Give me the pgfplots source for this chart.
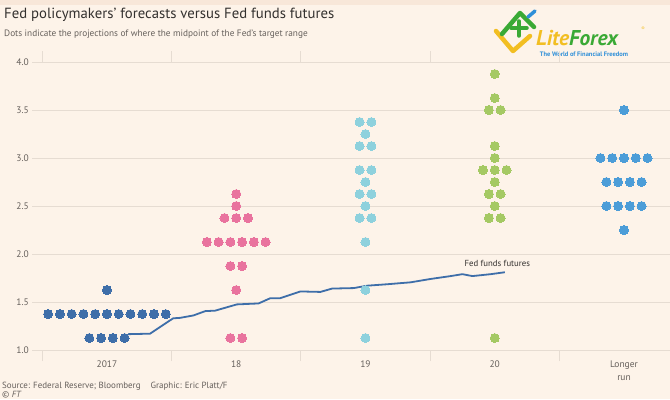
\documentclass[border=0pt]{standalone}
\usepackage{pgfplots}
\pgfplotsset{compat=1.18}
\usepackage{fontspec}
\setmainfont{PT Sans}
\definecolor{bg}{HTML}{FDF3E9}
\definecolor{topband}{HTML}{F8E7D9}
\definecolor{gridc}{HTML}{E6DCD2}
\definecolor{txt}{HTML}{33302E}
\definecolor{sub}{HTML}{66605C}
\definecolor{c17}{HTML}{3E6EA9}
\definecolor{c18}{HTML}{E9739E}
\definecolor{c19}{HTML}{8ED1DD}
\definecolor{c20}{HTML}{A5C964}
\definecolor{clr}{HTML}{4C9DD8}
\definecolor{lfgreen}{HTML}{3AA935}
\definecolor{lfyellow}{HTML}{F2BE22}
\definecolor{lfblue}{HTML}{2F8FD8}
\begin{document}
\begin{tikzpicture}[x=1bp,y=1bp]
\useasboundingbox (0,0) rectangle (670,399);
\fill[bg] (0,0) rectangle (670,399);
\fill[topband] (0,394) rectangle (670,399);
\node[anchor=west, font=\fontsize{14.8}{17}\selectfont, text=txt, inner sep=0] at (4,384) {Fed policymakers' forecasts versus Fed funds futures};
\node[anchor=west, font=\fontsize{9.3}{11}\selectfont, text=sub, inner sep=0] at (4,365) {Dots indicate the projections of where the midpoint of the Fed's target range};
\node[anchor=west, font=\fontsize{9}{10}\selectfont, text=sub, inner sep=0] at (2,13) {Source: Federal Reserve; Bloomberg\hspace{10bp}Graphic: Eric Platt/F};
\node[anchor=west, font=\fontsize{9}{10}\selectfont, text=sub, inner sep=0] at (2,4) {\textcopyright{} \textit{FT}};
% logo
\draw[lfyellow, line width=4.5bp, line cap=round, line join=round] (496,368) -- (513,348) -- (530,363);
\draw[lfgreen, line width=4.5bp, line cap=round, line join=round] (502,365) -- (520,386) -- (534,372);
\draw[lfgreen, line width=3.5bp, line cap=round] (511,371) -- (527,371);
\draw[lfgreen, line width=3.5bp, line cap=round] (519,363) -- (519,378);
\draw[lfblue, line width=3.5bp, line cap=round] (528,382) -- (535,388);
\node[anchor=base west, inner sep=0, font=\fontsize{21.5}{23}\selectfont\bfseries\itshape] at (536,354) {\textcolor{lfyellow}{Lite}\textcolor{lfgreen}{Forex}};
\node[anchor=center, inner sep=0, text=lfyellow, font=\fontsize{5}{6}\selectfont] at (643,370) {\textregistered};
\node[anchor=center, inner sep=0, text=lfblue, font=\fontsize{6.5}{7}\selectfont\bfseries] at (584,345) {The World of Financial Freedom};
\begin{axis}[
  at={(32bp,49bp)}, anchor=south west, scale only axis,
  width=638bp, height=288bp,
  xmin=-0.58, xmax=4.356, ymin=1, ymax=4,
  clip=false,
  axis line style={draw=none},
  ymajorgrids, grid style={gridc, line width=0.8bp},
  ytick={1,1.5,2,2.5,3,3.5,4},
  major tick length=0pt,
  yticklabel style={/pgf/number format/.cd, fixed, fixed zerofill, precision=1, assume math mode=true, /tikz/.cd, font=\fontsize{9.5}{11}\selectfont, text=sub, inner sep=0, anchor=east, xshift=-3bp},
  xtick={0,1,2,3,4},
  xticklabels={2017,18,19,20,{Longer\\run}},
  xticklabel style={font=\fontsize{9.5}{13}\selectfont, text=sub, inner sep=0, anchor=north, yshift=-11bp, align=center},
  extra x ticks={-0.5,0.5,1.5,2.5,3.5},
  extra x tick labels={},
  extra x tick style={major tick length=11bp, tick align=outside, tick style={draw=gridc, line width=0.8bp}},
  dot/.style={only marks, mark=*, mark size=4.5bp, mark options={solid, draw=#1, fill=#1, line width=0pt}, color=#1},
]
\draw[gridc, line width=0.8bp] (axis cs:-0.58,1) -- (axis cs:4.356,1);
% 2017
\addplot[dot=c17] coordinates {
(0,1.625)
(-0.455,1.375) (-0.364,1.375) (-0.273,1.375) (-0.182,1.375) (-0.091,1.375) (0,1.375) (0.091,1.375) (0.182,1.375) (0.273,1.375) (0.364,1.375) (0.455,1.375)
(-0.1365,1.125) (-0.0455,1.125) (0.0455,1.125) (0.1365,1.125)
};
% 2018
\addplot[dot=c18] coordinates {
(1,2.625) (1,2.5)
(0.909,2.375) (1,2.375) (1.091,2.375)
(0.7725,2.125) (0.8635,2.125) (0.9545,2.125) (1.0455,2.125) (1.1365,2.125) (1.2275,2.125)
(0.9545,1.875) (1.0455,1.875)
(1,1.625)
(0.9545,1.125) (1.0455,1.125)
};
% 2019
\addplot[dot=c19] coordinates {
(1.9545,3.375) (2.0455,3.375)
(2,3.25)
(1.9545,3.125) (2.0455,3.125)
(1.9545,2.875) (2.0455,2.875)
(2,2.75)
(1.9545,2.625) (2.0455,2.625)
(2,2.5)
(1.9545,2.375) (2.0455,2.375)
(2,2.125)
(2,1.625)
(2,1.125)
};
% 2020
\addplot[dot=c20] coordinates {
(3,3.875)
(3,3.625)
(2.9545,3.5) (3.0455,3.5)
(3,3.125)
(3,3.0)
(2.909,2.875) (3,2.875) (3.091,2.875)
(3,2.75)
(2.9545,2.625) (3.0455,2.625)
(3,2.5)
(2.9545,2.375) (3.0455,2.375)
(3,1.125)
};
% Longer run
\addplot[dot=clr] coordinates {
(4,3.5)
(3.818,3.0) (3.909,3.0) (4,3.0) (4.091,3.0) (4.182,3.0)
(3.8635,2.75) (3.9545,2.75) (4.0455,2.75) (4.1365,2.75)
(3.8635,2.5) (3.9545,2.5) (4.0455,2.5) (4.1365,2.5)
(4,2.25)
};
% Fed funds futures
\addplot[c17, line width=1.8bp, line join=round, no marks] coordinates {
(0.163,1.165) (0.333,1.17) (0.512,1.33) (0.566,1.335) (0.669,1.36) (0.760,1.405) (0.837,1.41) (1.005,1.475) (1.173,1.485) (1.264,1.54) (1.341,1.54) (1.496,1.61) (1.651,1.605) (1.742,1.64) (1.909,1.645) (2.013,1.67) (2.168,1.685) (2.349,1.705) (2.504,1.74) (2.659,1.77) (2.750,1.79) (2.827,1.77) (2.969,1.79) (3.078,1.81)
};
\node[font=\fontsize{8.8}{10}\selectfont, text=txt, inner sep=0] at (axis cs:3.02,1.906) {Fed funds futures};
\end{axis}
\end{tikzpicture}
\end{document}
